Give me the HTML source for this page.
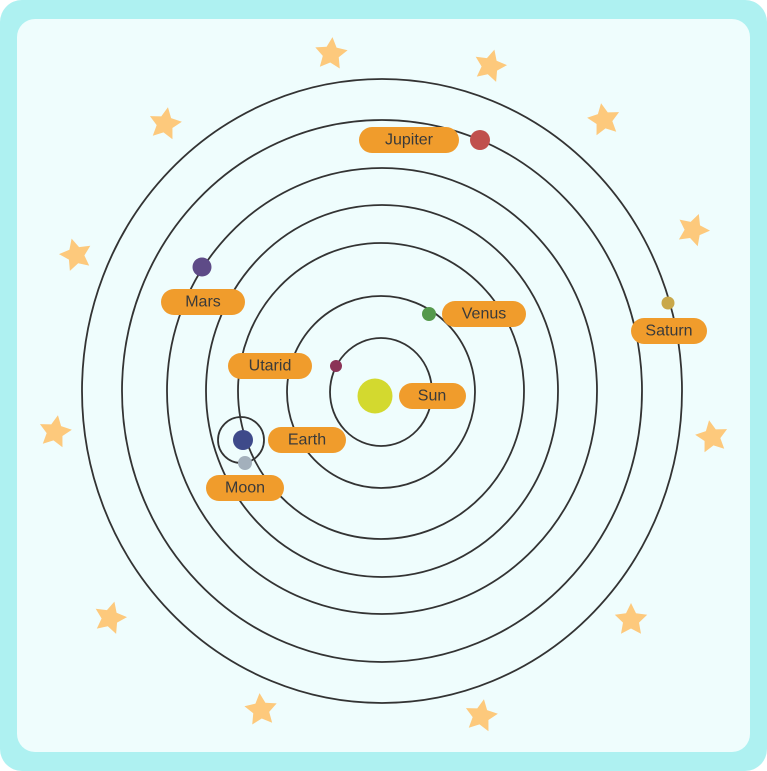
<!DOCTYPE html>
<html><head><style>
html,body{margin:0;padding:0;background:#fff;}
svg{display:block}
text{font-family:"Liberation Sans",sans-serif;font-size:16px;fill:#3a3a3a;text-anchor:middle;dominant-baseline:central}
</style></head><body>
<svg width="767" height="771" viewBox="0 0 767 771" xmlns="http://www.w3.org/2000/svg">
<defs>
<polygon id="st" points="0,-17 5,-6.8 16.2,-5.2 8,2.6 10,13.7 0,8.5 -10,13.7 -8,2.6 -16.2,-5.2 -5,-6.8" fill="#fdc97c"/>
</defs>
<rect x="0" y="0" width="767" height="771" rx="22" fill="#aef1f1"/>
<rect x="17" y="19" width="733" height="733" rx="18" fill="#effdfd"/>
<use href="#st" transform="translate(331,54) rotate(5)"/>
<use href="#st" transform="translate(490,66) rotate(15)"/>
<use href="#st" transform="translate(604,120) rotate(-10)"/>
<use href="#st" transform="translate(165,124) rotate(10)"/>
<use href="#st" transform="translate(693,230) rotate(20)"/>
<use href="#st" transform="translate(76,255) rotate(-15)"/>
<use href="#st" transform="translate(55,432) rotate(10)"/>
<use href="#st" transform="translate(712,437) rotate(-10)"/>
<use href="#st" transform="translate(110,618) rotate(15)"/>
<use href="#st" transform="translate(631,620) rotate(0)"/>
<use href="#st" transform="translate(261,710) rotate(-5)"/>
<use href="#st" transform="translate(481,716) rotate(10)"/>
<g fill="none" stroke="#333" stroke-width="1.8">
<ellipse cx="382" cy="391" rx="300" ry="312"/>
<ellipse cx="382" cy="391" rx="260" ry="271"/>
<ellipse cx="382" cy="391" rx="215" ry="223"/>
<ellipse cx="382" cy="391" rx="176" ry="186"/>
<ellipse cx="381" cy="391" rx="143" ry="148"/>
<ellipse cx="381" cy="392" rx="94" ry="96"/>
<ellipse cx="381" cy="392" rx="51" ry="54"/>
<circle cx="241" cy="440" r="23"/>
</g>
<circle cx="480" cy="140" r="10" fill="#c0504d"/>
<circle cx="202" cy="267" r="9.5" fill="#5e4b87"/>
<circle cx="429" cy="314" r="7" fill="#55994c"/>
<circle cx="668" cy="303" r="6.5" fill="#c9a84a"/>
<circle cx="336" cy="366" r="6" fill="#8b3357"/>
<circle cx="375" cy="396" r="17.5" fill="#d3d92f"/>
<circle cx="243" cy="440" r="10" fill="#3e4a8a"/>
<circle cx="245" cy="463" r="7" fill="#a3b0bc"/>
<g fill="#f09c2c">
<rect x="359" y="127" width="100" height="26" rx="13"/>
<rect x="161" y="289" width="84" height="26" rx="13"/>
<rect x="442" y="301" width="84" height="26" rx="13"/>
<rect x="631" y="318" width="76" height="26" rx="13"/>
<rect x="228" y="353" width="84" height="26" rx="13"/>
<rect x="399" y="383" width="67" height="26" rx="13"/>
<rect x="268" y="427" width="78" height="26" rx="13"/>
<rect x="206" y="475" width="78" height="26" rx="13"/>
</g>
<text x="409" y="140">Jupiter</text>
<text x="203" y="302">Mars</text>
<text x="484" y="314">Venus</text>
<text x="669" y="331">Saturn</text>
<text x="270" y="366">Utarid</text>
<text x="432" y="396">Sun</text>
<text x="307" y="440">Earth</text>
<text x="245" y="488">Moon</text>
</svg>
</body></html>
